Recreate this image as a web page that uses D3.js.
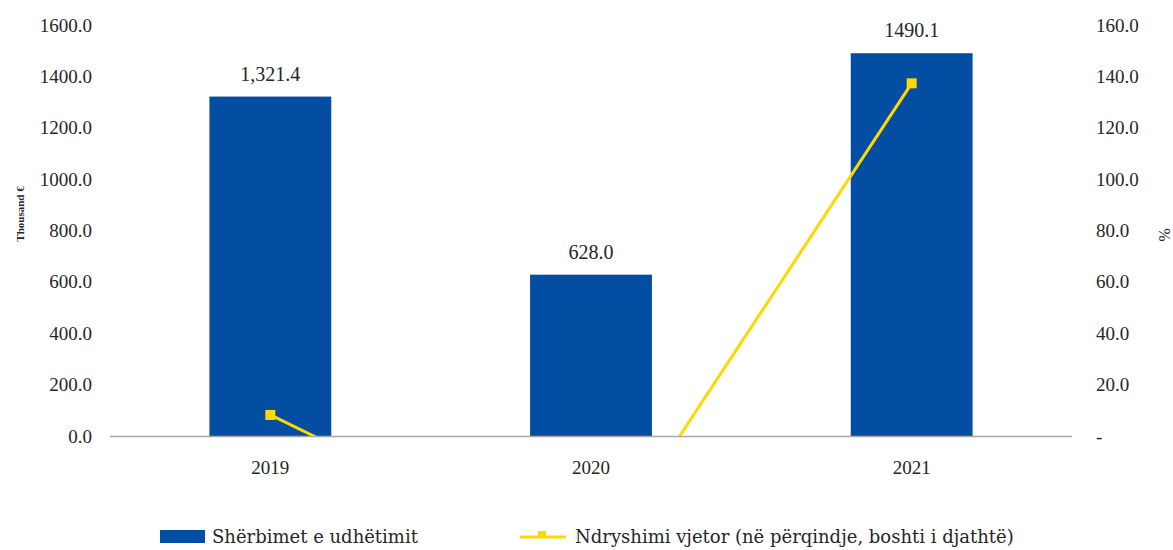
<!DOCTYPE html>
<html>
<head>
<meta charset="utf-8">
<script src="https://cdn.jsdelivr.net/npm/d3@7"></script>
<style>
  body { margin: 0; background: #fff; }
  svg text { font-family: "Liberation Serif", serif; fill: #262626; }
  svg text.leg { font-family: "DejaVu Serif", serif; }
</style>
</head>
<body>
<svg id="chart" width="1173" height="550"></svg>
<script>
// data
const years = ["2019", "2020", "2021"]
const sherbimet = [1321.4, 628.0, 1490.1]
const barLabels = ["1,321.4", "628.0", "1490.1"]
const ndryshimi = [8.2, -52.5, 137.3]
const leftTicks = [0, 200, 400, 600, 800, 1000, 1200, 1400, 1600]
const rightTicks = [0, 20, 40, 60, 80, 100, 120, 140, 160]

const blue = "#034ea2"
const yellow = "#ffd800"

const svg = d3.select("#chart")
const plotLeft = 110, plotRight = 1072, plotTop = 25, plotBottom = 436

const x = d3.scaleBand().domain(years).range([plotLeft, plotRight]).paddingInner(0.62).paddingOuter(0.31)
const xc = d => x(d) + x.bandwidth() / 2
const y = d3.scaleLinear().domain([0, 1600]).range([plotBottom, plotTop])
const y2 = d3.scaleLinear().domain([0, 160]).range([plotBottom, plotTop])

// left axis
const ax = svg.append("g")
  .attr("transform", `translate(${plotLeft},0)`)
  .call(d3.axisLeft(y).tickValues(leftTicks).tickSize(0).tickPadding(18).tickFormat(d3.format(".1f")))
ax.select(".domain").remove()
ax.selectAll("text").style("font-size", "19px").style("font-family", "Liberation Serif")

// right axis
const ax2 = svg.append("g")
  .attr("transform", `translate(${plotRight},0)`)
  .call(d3.axisRight(y2).tickValues(rightTicks).tickSize(0).tickPadding(24)
    .tickFormat(d => d === 0 ? "-" : d3.format(".1f")(d)))
ax2.select(".domain").remove()
ax2.selectAll("text").style("font-size", "19px").style("font-family", "Liberation Serif")

// bars
svg.append("g").selectAll("rect")
  .data(sherbimet)
  .join("rect")
  .attr("x", (d, i) => x(years[i]))
  .attr("y", d => y(d))
  .attr("width", x.bandwidth())
  .attr("height", d => y(0) - y(d))
  .attr("fill", blue)

// baseline
svg.append("line")
  .attr("x1", plotLeft).attr("x2", plotRight)
  .attr("y1", plotBottom + 0.5).attr("y2", plotBottom + 0.5)
  .attr("stroke", "#a6a6a6").attr("stroke-width", 1.5)

// bar labels
svg.append("g").selectAll("text")
  .data(barLabels)
  .join("text")
  .attr("x", (d, i) => xc(years[i]))
  .attr("y", (d, i) => y(sherbimet[i]) - 16)
  .attr("text-anchor", "middle")
  .style("font-size", "20px")
  .text(d => d)

// x labels
svg.append("g").selectAll("text")
  .data(years)
  .join("text")
  .attr("x", d => xc(d))
  .attr("y", 474)
  .attr("text-anchor", "middle")
  .style("font-size", "19px")
  .text(d => d)

// line (clipped at the 0 of the right axis)
svg.append("clipPath").attr("id", "clip")
  .append("rect").attr("x", plotLeft).attr("y", 0).attr("width", plotRight - plotLeft).attr("height", plotBottom)

const line = d3.line().x((d, i) => xc(years[i])).y(d => y2(d))
svg.append("path")
  .datum(ndryshimi)
  .attr("clip-path", "url(#clip)")
  .attr("d", line)
  .attr("fill", "none")
  .attr("stroke", yellow)
  .attr("stroke-width", 3)

svg.append("g").attr("clip-path", "url(#clip)").selectAll("rect")
  .data(ndryshimi)
  .join("rect")
  .attr("x", (d, i) => xc(years[i]) - 5)
  .attr("y", d => y2(d) - 5)
  .attr("width", 10).attr("height", 10)
  .attr("fill", yellow)

// axis titles
svg.append("text")
  .attr("transform", "translate(24,214) rotate(-90)")
  .attr("text-anchor", "middle")
  .style("font-size", "11px").style("font-weight", "bold")
  .text("Thousand €")

svg.append("text")
  .attr("transform", "translate(1159,235) rotate(90)")
  .attr("text-anchor", "middle")
  .style("font-size", "16px")
  .text("%")

// legend
const leg = svg.append("g")
leg.append("rect").attr("x", 160).attr("y", 530).attr("width", 45).attr("height", 13).attr("fill", blue)
leg.append("text").attr("class", "leg").attr("x", 212).attr("y", 543).style("font-size", "18px").text("Shërbimet e udhëtimit")
leg.append("line").attr("x1", 520).attr("x2", 566).attr("y1", 537).attr("y2", 537)
  .attr("stroke", yellow).attr("stroke-width", 3)
leg.append("rect").attr("x", 538).attr("y", 531).attr("width", 8).attr("height", 7).attr("fill", yellow)
leg.append("text").attr("class", "leg").attr("x", 575).attr("y", 543).style("font-size", "18px").text("Ndryshimi vjetor (në përqindje, boshti i djathtë)")
</script>
</body>
</html>
